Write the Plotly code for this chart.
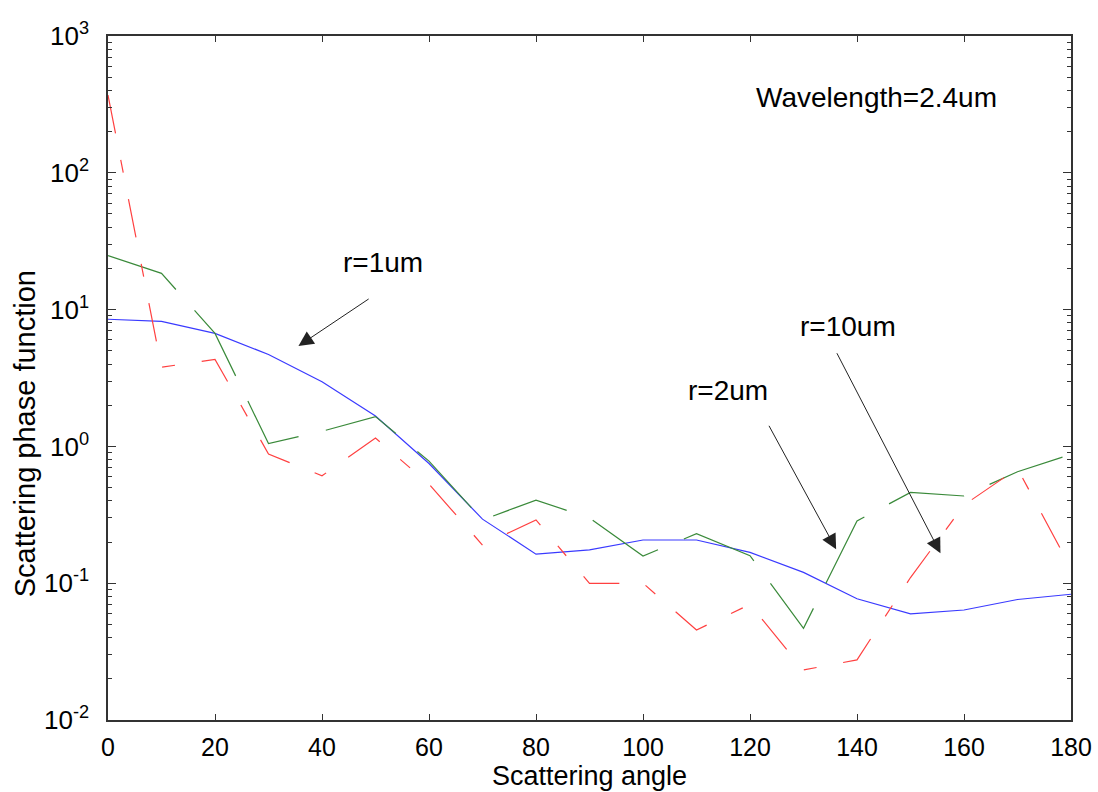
import plotly.graph_objects as go

angles = [0, 10, 20, 30, 40, 50, 60, 70, 80, 90, 100, 110, 120, 130, 140, 150, 160, 170, 180]
r1um = [8.5, 8.2, 6.7, 4.7, 2.97, 1.67, 0.75, 0.294, 0.163, 0.175, 0.207, 0.207, 0.168, 0.12,
        0.077, 0.0596, 0.0637, 0.076, 0.083]
r2um = [24.8, 18.4, 6.7, 1.05, 1.29, 1.65, 0.78, 0.29, 0.405, 0.30, 0.158, 0.23, 0.159, 0.0468,
        0.285, 0.461, 0.434, 0.653, 0.875]
r10um = [370, 3.79, 4.33, 0.88, 0.61, 1.15, 0.53, 0.19, 0.29, 0.0997, 0.1, 0.0455, 0.070, 0.0232,
         0.0275, 0.11, 0.373, 0.69, 0.128]
y_tickvals = [0.01, 0.1, 1, 10, 100, 1000]
y_ticktext = ["10<sup>-2</sup>", "10<sup>-1</sup>", "10<sup>0</sup>",
              "10<sup>1</sup>", "10<sup>2</sup>", "10<sup>3</sup>"]
x_tickvals = [0, 20, 40, 60, 80, 100, 120, 140, 160, 180]

FONT = "Liberation Sans, Arial, Helvetica, sans-serif"

fig = go.Figure()
fig.add_trace(go.Scatter(x=angles, y=r1um, mode="lines", name="r=1um",
                         line=dict(color="#3a3aff", width=1.2)))
fig.add_trace(go.Scatter(x=angles, y=r2um, mode="lines", name="r=2um",
                         line=dict(color="#3a8a3a", width=1.2, dash="78px,28px")))
fig.add_trace(go.Scatter(x=angles, y=r10um, mode="lines", name="r=10um",
                         line=dict(color="#ff4040", width=1.2, dash="39px,27px,13px,27px")))

txt = dict(font=dict(family=FONT, size=28, color="black"), showarrow=False,
           xref="x", yref="y", xanchor="center", yanchor="middle")
fig.add_annotation(text="Wavelength=2.4um", x=143.7, y=2.547, **txt)
fig.add_annotation(text="r=1um", x=51.4, y=1.341, **txt)
fig.add_annotation(text="r=2um", x=115.9, y=0.412, **txt)
fig.add_annotation(text="r=10um", x=138.3, y=0.873, **txt)

arr = dict(text="", showarrow=True, arrowhead=2, arrowsize=3, arrowwidth=1,
           arrowcolor="#222222", xref="x", yref="y", axref="x", ayref="y", standoff=0)
fig.add_annotation(x=35.6, y=0.734, ax=49.0, ay=1.085, **arr)
fig.add_annotation(x=136.1, y=-0.752, ax=123.4, ay=0.1615, **arr)
fig.add_annotation(x=155.6, y=-0.781, ax=136.1, ay=0.692, **arr)

fig.add_annotation(text="Scattering phase function", xref="paper", yref="paper",
                   x=-0.086, y=0.418, xanchor="center", yanchor="middle",
                   textangle=-90, showarrow=False,
                   font=dict(family=FONT, size=29, color="black"))

fig.update_layout(
    width=1098, height=792,
    margin=dict(l=108, r=27, t=36, b=72),
    paper_bgcolor="white", plot_bgcolor="white",
    showlegend=False,
    font=dict(family=FONT, size=25, color="black"),
)
fig.update_xaxes(
    range=[0, 180], tickvals=x_tickvals,
    ticks="inside", ticklen=6, tickcolor="#333", showline=True, linecolor="#333",
    linewidth=1.5, mirror="ticks", showgrid=False, zeroline=False,
    ticklabelstandoff=4, automargin=False, tickfont=dict(family=FONT, size=25),
    title=dict(text="Scattering angle", font=dict(family=FONT, size=27), standoff=6),
)
fig.update_yaxes(
    type="log", range=[-2, 3], tickvals=y_tickvals, ticktext=y_ticktext,
    ticks="inside", ticklen=8, tickcolor="#333", showline=True, linecolor="#333",
    linewidth=1.5, mirror="ticks", showgrid=False, zeroline=False,
    ticklabelstandoff=12, automargin=False, tickfont=dict(family=FONT, size=26),
    minor=dict(ticks="inside", ticklen=4, tickcolor="#333", showgrid=False,
               tickvals=[m * 10 ** e for e in range(-2, 3) for m in range(2, 10)]),
)

fig.write_html("out.html")
